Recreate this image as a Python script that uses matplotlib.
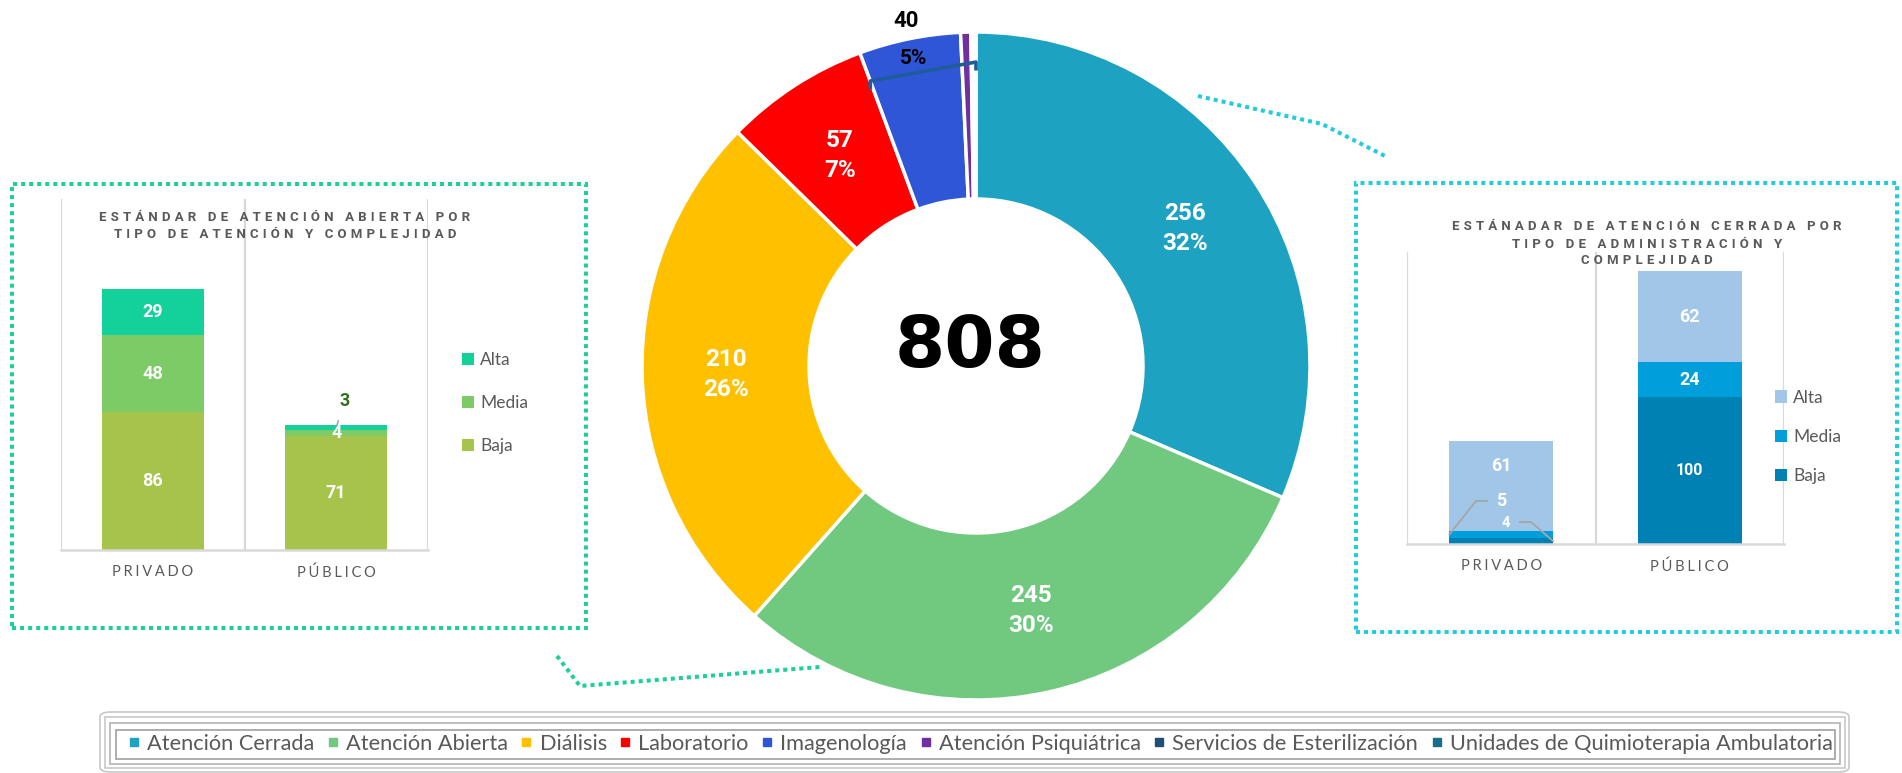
import numpy as np
import matplotlib
matplotlib.use('Agg')
import matplotlib.pyplot as plt
from matplotlib.lines import Line2D
from matplotlib.patches import Rectangle, FancyBboxPatch

plt.rcParams['font.family'] = ['Lato', 'DejaVu Sans']
BOLD = ['Roboto', 'DejaVu Sans']

W, H = 1902, 773

# ---- data ----
servicios = ['Atención Cerrada', 'Atención Abierta', 'Diálisis', 'Laboratorio',
             'Imagenología', 'Atención Psiquiátrica', 'Servicios de Esterilización',
             'Unidades de Quimioterapia Ambulatoria']
servicios_n = [256, 245, 210, 57, 40, 4, 1, 1]
servicios_pct = [32, 30, 26, 7, 5]          # percentages as printed
total_estandares = 808
servicios_colores = ['#1DA3C1', '#70C97F', '#FFC000', '#FF0000', '#3056D8',
                     '#7030A0', '#1F4E79', '#1B6C8A']

tipos = ['PRIVADO', 'PÚBLICO']
complejidad = ['Baja', 'Media', 'Alta']

abierta_baja = [86, 71]
abierta_media = [48, 4]
abierta_alta = [29, 3]
abierta_colores = ['#A6C44B', '#7DCB66', '#14D09A']

cerrada_baja = [4, 100]
cerrada_media = [5, 24]
cerrada_alta = [61, 62]
cerrada_colores = ['#0081B4', '#009EDA', '#A2C6E8']

GREY = '#595959'
LINE = '#D9D9D9'
VERDE = '#1ECF9A'
CELESTE = '#22CCDD'


def box(l, t, r, b):
    # pixel box (top-left origin) -> figure fraction rect
    return [l / W, 1 - b / H, (r - l) / W, (b - t) / H]


def fx(px):
    return px / W


def fy(py):
    return 1 - py / H


def spaced(s, sep='\u2009\u200a'):
    # imitate the letter spacing used in the original titles
    return (sep + ' ' + sep).join(sep.join(w) for w in s.split(' '))


fig = plt.figure(figsize=(W / 100, H / 100), dpi=100)


def stacked(ax, baja, media, alta, colores, width, ymax):
    x = np.arange(len(tipos))
    b1 = ax.bar(x, baja, width, color=colores[0], label='Baja')
    b2 = ax.bar(x, media, width, bottom=baja, color=colores[1], label='Media')
    b3 = ax.bar(x, alta, width, bottom=np.add(baja, media), color=colores[2], label='Alta')
    ax.set_xlim(-0.5, 1.5)
    ax.set_ylim(0, ymax)
    ax.set_yticks([])
    ax.set_xticks(x, [spaced(t) for t in tipos], color=GREY, fontsize=10.5)
    ax.set_xticks([-0.5, 0.5, 1.5], minor=True)
    ax.tick_params(axis='x', which='both', length=0, pad=11)
    ax.grid(True, which='minor', axis='x', color=LINE, lw=1.6)
    ax.set_axisbelow(True)
    for s in ['left', 'right', 'top']:
        ax.spines[s].set_visible(False)
    ax.spines['bottom'].set_color(LINE)
    ax.spines['bottom'].set_linewidth(1.8)
    ax.patch.set_alpha(0)
    return b1, b2, b3


lab_kw = dict(label_type='center', color='white', fontweight='bold', fontsize=13, family=BOLD)

# ---- left inset: atención abierta ----
axl = fig.add_axes(box(61, 199, 428, 550))
bl = stacked(axl, abierta_baja, abierta_media, abierta_alta, abierta_colores, 0.556, 219)
axl.bar_label(bl[0], labels=[str(v) for v in abierta_baja], **lab_kw)
axl.bar_label(bl[1], labels=[str(v) for v in abierta_media], **lab_kw)
axl.bar_label(bl[2], labels=[str(abierta_alta[0]), ''], **lab_kw)
y_alta = abierta_baja[1] + abierta_media[1] + abierta_alta[1] / 2
axl.annotate(str(abierta_alta[1]), xy=(1, y_alta), xytext=(6, 19), textcoords='offset points',
             ha='center', va='center', color='#33701C', fontweight='bold', fontsize=13,
             family=BOLD,
             arrowprops=dict(arrowstyle='-', color='#A6A6A6', lw=1.2, shrinkA=6, shrinkB=2))
axl.legend(handles=bl[::-1], loc='center left', bbox_to_anchor=(fx(462), fy(403)),
           bbox_transform=fig.transFigure, frameon=False, fontsize=12.5, labelcolor=GREY,
           handlelength=0.7, handleheight=0.7, handletextpad=0.35, labelspacing=1.55,
           borderpad=0, borderaxespad=0)
fig.text(fx(285), fy(226), spaced('ESTÁNDAR DE ATENCIÓN ABIERTA POR') + '\n' +
         spaced('TIPO DE ATENCIÓN Y COMPLEJIDAD'), ha='center', va='center',
         color=GREY, fontweight='bold', fontsize=9.5, linespacing=1.45, family=BOLD)

# ---- right inset: atención cerrada ----
axr = fig.add_axes(box(1407, 252, 1784, 544))
br = stacked(axr, cerrada_baja, cerrada_media, cerrada_alta, cerrada_colores, 0.55, 199)
axr.bar_label(br[0], labels=['', str(cerrada_baja[1])], label_type='center', color='white',
              fontweight='bold', fontsize=11.5, family=BOLD)
axr.bar_label(br[1], labels=['', str(cerrada_media[1])], **lab_kw)
axr.bar_label(br[2], labels=['', str(cerrada_alta[1])], **lab_kw)
hw = 0.55 / 2
# privado alta label sits above the centre in the original
axr.text(0, cerrada_baja[0] + cerrada_media[0] + cerrada_alta[0] * 0.72, str(cerrada_alta[0]),
         ha='center', va='center', color='white', fontweight='bold', fontsize=13, family=BOLD)
# elbow leader lines for the two small privado segments
y_media = cerrada_baja[0] + cerrada_media[0] / 2
axr.plot([-hw, -0.134, -0.076], [y_media, 29.3, 29.3], color='#A6A6A6', lw=1.3)
axr.text(0.0, 29.0, str(cerrada_media[0]), ha='center', va='center', color='white',
         fontweight='bold', fontsize=13, family=BOLD)
y_baja = cerrada_baja[0] / 2
axr.plot([hw, 0.158, 0.099], [y_baja, 15, 15], color='#A6A6A6', lw=1.3)
axr.text(0.026, 14.5, str(cerrada_baja[0]), ha='center', va='center', color='white',
         fontweight='bold', fontsize=10.5, family=BOLD)
axr.legend(handles=br[::-1], loc='center left', bbox_to_anchor=(fx(1775), fy(437)),
           bbox_transform=fig.transFigure, frameon=False, fontsize=12.5, labelcolor=GREY,
           handlelength=0.7, handleheight=0.7, handletextpad=0.35, labelspacing=1.35,
           borderpad=0, borderaxespad=0)
fig.text(fx(1647), fy(244), spaced('ESTÁNADAR DE ATENCIÓN CERRADA POR') + '\n' +
         spaced('TIPO DE ADMINISTRACIÓN Y') + '\n' + spaced('COMPLEJIDAD'),
         ha='center', va='center', color=GREY, fontweight='bold', fontsize=9.5,
         linespacing=1.4, zorder=5, family=BOLD)

# ---- donut ----
axd = fig.add_axes(box(642, 32, 1310, 700))
wedges, _ = axd.pie(servicios_n, colors=servicios_colores, startangle=90, counterclock=False,
                    radius=1, wedgeprops=dict(width=0.5, edgecolor='white', linewidth=2.5))
axd.set_xlim(-1, 1)
axd.set_ylim(-1, 1)
axd.axis('off')
for i in range(4):
    t = np.deg2rad((wedges[i].theta1 + wedges[i].theta2) / 2)
    axd.text(0.75 * np.cos(t), 0.75 * np.sin(t), f'{servicios_n[i]}\n{servicios_pct[i]}%',
             ha='center', va='center', color='white', fontweight='bold', fontsize=17.5,
             linespacing=1.4, family=BOLD)
t = np.deg2rad((wedges[4].theta1 + wedges[4].theta2) / 2)
axd.text(1.055 * np.cos(t), 1.055 * np.sin(t), str(servicios_n[4]), ha='center', va='center',
         color='black', fontweight='bold', fontsize=16, clip_on=False, family=BOLD)
axd.text(0.94 * np.cos(t), 0.94 * np.sin(t), f'{servicios_pct[4]}%', ha='center', va='center',
         color='black', fontweight='bold', fontsize=15, family=BOLD)
ta = np.deg2rad(wedges[4].theta2)
tb = np.deg2rad(wedges[-1].theta1)
xa, ya = 0.91 * np.cos(ta), 0.91 * np.sin(ta)
xb, yb = 0.91 * np.cos(tb), 0.91 * np.sin(tb)
axd.plot([xa, xa, xb, xb], [ya - 0.02, ya, yb, yb - 0.02], color='#1F5C99', lw=2.6,
         solid_joinstyle='round')
axd.text(-0.018, 0.054, str(total_estandares), ha='center', va='center', fontsize=52,
         family='DejaVu Sans', fontweight='bold', color='black')

# ---- dotted frames and connectors ----
fig.add_artist(Rectangle((fx(12), fy(628)), (586 - 12) / W, (628 - 184) / H,
                         transform=fig.transFigure, fill=False, edgecolor=VERDE, lw=2.9,
                         linestyle=(0, (1, 1))))
fig.add_artist(Rectangle((fx(1356), fy(632)), (1897 - 1356) / W, (632 - 183) / H,
                         transform=fig.transFigure, fill=False, edgecolor=CELESTE, lw=2.9,
                         linestyle=(0, (1, 1))))
fig.add_artist(Line2D([fx(557), fx(580), fx(820)], [fy(656), fy(686), fy(667)],
                      transform=fig.transFigure, color=VERDE, lw=2.9, linestyle=(0, (1, 1))))
fig.add_artist(Line2D([fx(1198), fx(1322), fx(1387)], [fy(96), fy(124), fy(157)],
                      transform=fig.transFigure, color=CELESTE, lw=2.9, linestyle=(0, (1, 1))))

# ---- bottom legend with nested frame ----
fig.add_artist(FancyBboxPatch((fx(100), fy(772)), (1849 - 100) / W, (772 - 712) / H,
                              boxstyle='round,pad=0,rounding_size=0.006',
                              transform=fig.transFigure, fill=False, edgecolor='#C8C8C8', lw=1.2))
for (l, t, r, b), c in [((105, 717, 1845, 768), '#C8C8C8'), ((110, 723, 1840, 764), '#B4B4B4'),
                        ((116, 730, 1835, 759), '#A0A0A0')]:
    fig.add_artist(Rectangle((fx(l), fy(b)), (r - l) / W, (b - t) / H, transform=fig.transFigure,
                             fill=False, edgecolor=c, lw=1.2))
handles = [Line2D([], [], marker='s', linestyle='', color=c, markersize=6)
           for c in servicios_colores]
fig.legend(handles, servicios, loc='center', bbox_to_anchor=(fx(980), fy(744)), ncol=8,
           frameon=False, fontsize=15.7, labelcolor=GREY, handlelength=0.6, handletextpad=0.3,
           columnspacing=0.55, borderpad=0)

fig.savefig('out.png', dpi=100)
